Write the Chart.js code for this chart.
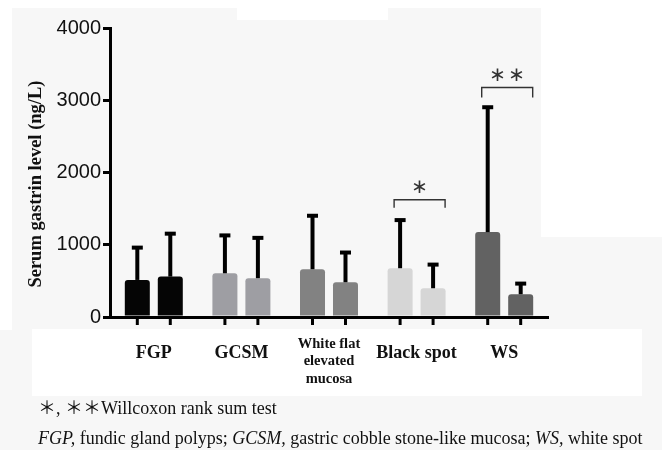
<!DOCTYPE html>
<html><head><meta charset="utf-8">
<script src="https://cdn.jsdelivr.net/npm/chart.js@4/dist/chart.umd.min.js"></script>
<style>
html,body{margin:0;padding:0;background:#f7f7f7;}
#wrap{position:relative;width:662px;height:450px;overflow:hidden;background:#f7f7f7;}
.w{position:absolute;background:#ffffff;}
canvas{position:absolute;left:0;top:0;}
.note{position:absolute;left:38px;font-family:"Liberation Serif","Noto Sans CJK JP",serif;font-size:18px;color:#111;white-space:nowrap;line-height:20px;}
</style></head>
<body><div id="wrap">
<div class="w" style="left:0;top:0;width:662px;height:8px"></div>
<div class="w" style="left:0;top:0;width:12px;height:330px"></div>
<div class="w" style="left:237px;top:0;width:151px;height:20px"></div>
<div class="w" style="left:541px;top:8px;width:121px;height:229px"></div>
<div class="w" style="left:32px;top:329px;width:610px;height:67px"></div>
<canvas id="c" width="662" height="450"></canvas>
<div class="note" style="top:398px">＊, ＊＊Willcoxon rank sum test</div>
<div class="note" style="top:428px"><i>FGP,</i> fundic gland polyps; <i>GCSM,</i> gastric cobble stone-like mucosa; <i>WS,</i> white spot</div>
</div>
<script>
// ---- data ----
const categories = ['FGP', 'GCSM', ['White flat', 'elevated', 'mucosa'], 'Black spot', 'WS'];
const group1Mean = [513, 605, 661, 675, 1175];
const group1SD   = [475, 552, 768, 694, 1756];
const group2Mean = [559, 537, 481, 398, 315];
const group2SD   = [622, 586, 439, 355, 175];
const barColors  = ['#050505', '#9e9ea3', '#828282', '#d6d6d6', '#626262'];
const yTickMin = 0, yTickMax = 4000, yTickStep = 1000;
const yAxisTitle = 'Serum gastrin level (ng/L)';
// significance brackets: category index, bracket top value, leg bottom value, number of stars
const sigCategory = [3, 4];
const sigTop      = [1623, 3176];
const sigLeg      = [1512, 3037];
const sigStars    = [1, 2];

const errorSD = [group1SD, group2SD];

const errorBarPlugin = {
  id: 'errorBars',
  afterDatasetsDraw(chart) {
    const ctx = chart.ctx, y = chart.scales.y;
    ctx.save();
    ctx.strokeStyle = '#000';
    chart.data.datasets.forEach((ds, di) => {
      const meta = chart.getDatasetMeta(di);
      meta.data.forEach((el, i) => {
        const top = y.getPixelForValue(ds.data[i] + errorSD[di][i]);
        ctx.lineWidth = 4;
        ctx.beginPath(); ctx.moveTo(el.x, el.y); ctx.lineTo(el.x, top + 2); ctx.stroke();
        ctx.fillStyle = '#000';
        ctx.fillRect(el.x - 5.5, top, 11, 4);
      });
    });
    ctx.restore();
  },
  afterDraw(chart) {
    const ctx = chart.ctx, y = chart.scales.y, b = chart.chartArea.bottom;
    ctx.save();
    ctx.strokeStyle = '#000'; ctx.lineWidth = 3;
    chart.data.datasets.forEach((ds, di) => {
      chart.getDatasetMeta(di).data.forEach(el => {
        ctx.beginPath(); ctx.moveTo(el.x, b); ctx.lineTo(el.x, b + 8); ctx.stroke();
      });
    });
    // brackets
    sigCategory.forEach((ci, k) => {
      const a = chart.getDatasetMeta(0).data[ci], c = chart.getDatasetMeta(1).data[ci];
      const x1 = a.x - 6, x2 = c.x + 12;
      const yt = y.getPixelForValue(sigTop[k]), yl = y.getPixelForValue(sigLeg[k]);
      ctx.strokeStyle = '#333'; ctx.lineWidth = 1.4;
      ctx.beginPath(); ctx.moveTo(x1, yl); ctx.lineTo(x1, yt); ctx.lineTo(x2, yt); ctx.lineTo(x2, yl); ctx.stroke();
      ctx.fillStyle = '#333';
      ctx.font = '20px "DejaVu Sans"';
      ctx.textAlign = 'center'; ctx.textBaseline = 'middle';
      const n = sigStars[k], mid = (x1 + x2) / 2;
      for (let s = 0; s < n; s++) {
        ctx.fillText('\u2217', mid + (s - (n - 1) / 2) * 19, yt - 12);
      }
    });
    ctx.restore();
  }
};

new Chart(document.getElementById('c'), {
  type: 'bar',
  data: {
    labels: categories,
    datasets: [
      { label: 'Series 1', data: group1Mean, backgroundColor: barColors, borderRadius: 3, borderSkipped: 'bottom',
        barPercentage: 0.758, categoryPercentage: 0.753 },
      { label: 'Series 2', data: group2Mean, backgroundColor: barColors, borderRadius: 3, borderSkipped: 'bottom',
        barPercentage: 0.758, categoryPercentage: 0.753 }
    ]
  },
  options: {
    responsive: false,
    animation: false,
    layout: { padding: { left: 21, right: 114, top: 28, bottom: 0 } },
    plugins: { legend: { display: false }, tooltip: { enabled: false } },
    scales: {
      x: {
        grid: { display: false },
        border: { display: true, color: '#000', width: 3 },
        ticks: {
          padding: 10, color: '#111', maxRotation: 0, autoSkip: false,
          font: (c) => c.index === 2
            ? { family: '"Liberation Serif"', size: 14.5, weight: 'bold', lineHeight: 1.22 }
            : { family: '"Liberation Serif"', size: 18, weight: 'bold', lineHeight: 2.0 }
        },
        afterFit: (s) => { s.height = 133; }
      },
      y: {
        min: yTickMin, max: yTickMax,
        ticks: { stepSize: yTickStep, padding: 2, color: '#111', font: { family: '"Liberation Sans"', size: 20 },
          callback: (v) => String(v) },
        grid: { drawOnChartArea: false, drawTicks: true, tickLength: 7, lineWidth: 3, color: '#000' },
        border: { display: true, color: '#000', width: 3 },
        title: { display: true, text: yAxisTitle + '\u00a0\u00a0\u00a0\u00a0\u00a0', color: '#111',
          font: { family: '"Liberation Serif"', size: 18.5, weight: 'bold' }, padding: { top: 4, bottom: 4 } },
        afterFit: (s) => { s.width = 89; }
      }
    }
  },
  plugins: [errorBarPlugin]
});
</script>
</body></html>
